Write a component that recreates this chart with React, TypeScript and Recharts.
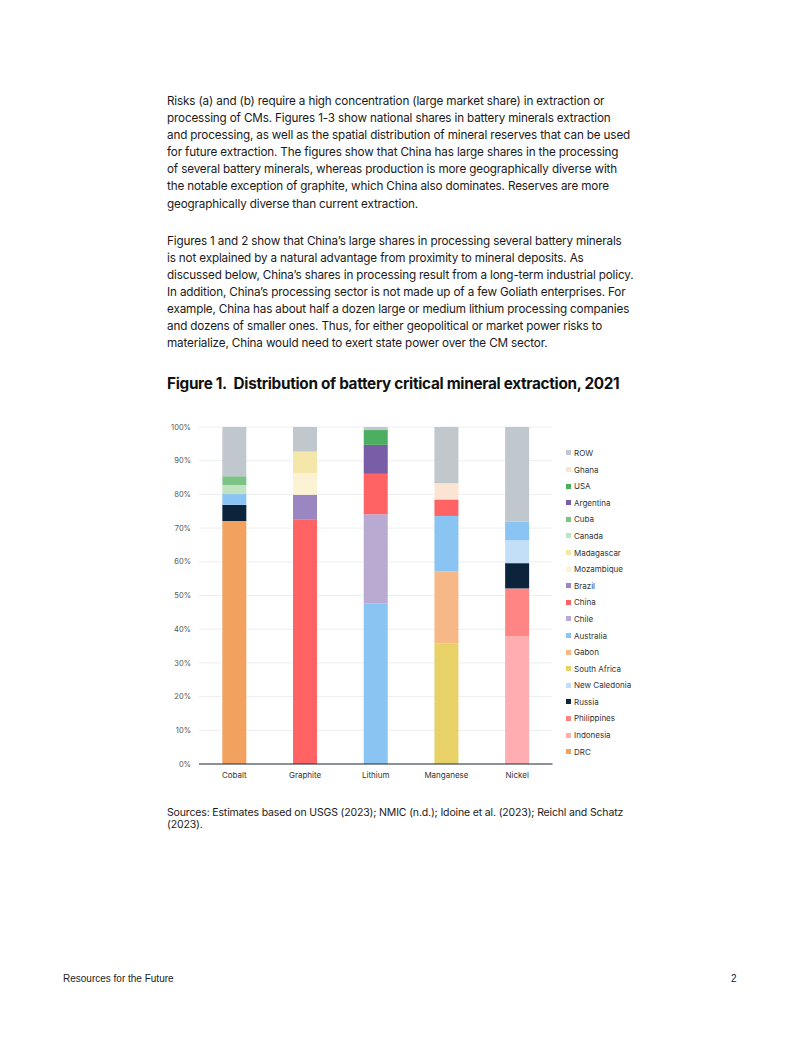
import type { ReactElement } from "react";
import { BarChart, Bar, XAxis, YAxis, CartesianGrid, Legend } from "recharts";

const minerals = ["Cobalt", "Graphite", "Lithium", "Manganese", "Nickel"];
const yTicks = [0, 10, 20, 30, 40, 50, 60, 70, 80, 90, 100];

// national share of extraction (%), one value per mineral in the order above
const drc = [72.1, 0, 0, 0, 0];
const indonesia = [0, 0, 0, 0, 37.8];
const philippines = [0, 0, 0, 0, 14.3];
const russia = [4.8, 0, 0, 0, 7.5];
const newCaledonia = [0, 0, 0, 0, 6.8];
const southAfrica = [0, 0, 0, 35.8, 0];
const gabon = [0, 0, 0, 21.3, 0];
const australia = [3.2, 0, 47.7, 16.5, 5.5];
const chile = [0, 0, 26.4, 0, 0];
const china = [0, 72.6, 12.0, 4.9, 0];
const brazil = [0, 7.3, 0, 0, 0];
const mozambique = [0, 6.4, 0, 0, 0];
const madagascar = [0, 6.4, 0, 0, 0];
const canada = [2.7, 0, 0, 0, 0];
const cuba = [2.6, 0, 0, 0, 0];
const argentina = [0, 0, 8.6, 0, 0];
const usa = [0, 0, 4.4, 0, 0];
const ghana = [0, 0, 0, 4.8, 0];
const row = [14.6, 7.3, 0.9, 16.7, 28.1];

const series = [
    { name: "DRC", values: drc, color: "#F2A15F" },
    { name: "Indonesia", values: indonesia, color: "#FFADB0" },
    { name: "Philippines", values: philippines, color: "#FF8585" },
    { name: "Russia", values: russia, color: "#0C243B" },
    { name: "New Caledonia", values: newCaledonia, color: "#C2DFF7" },
    { name: "South Africa", values: southAfrica, color: "#E8D166" },
    { name: "Gabon", values: gabon, color: "#F6B886" },
    { name: "Australia", values: australia, color: "#8AC4F3" },
    { name: "Chile", values: chile, color: "#B8AAD1" },
    { name: "China", values: china, color: "#FF6363" },
    { name: "Brazil", values: brazil, color: "#9A87C2" },
    { name: "Mozambique", values: mozambique, color: "#FBF3D3" },
    { name: "Madagascar", values: madagascar, color: "#F5E6A9" },
    { name: "Canada", values: canada, color: "#C0E3C4" },
    { name: "Cuba", values: cuba, color: "#7CC385" },
    { name: "Argentina", values: argentina, color: "#795DA6" },
    { name: "USA", values: usa, color: "#4CAE60" },
    { name: "Ghana", values: ghana, color: "#FCE4D5" },
    { name: "ROW", values: row, color: "#C0C7CD" },
];

const para1 = [
    "Risks (a) and (b) require a high concentration (large market share) in extraction or",
    "processing of CMs. Figures 1-3 show national shares in battery minerals extraction",
    "and processing, as well as the spatial distribution of mineral reserves that can be used",
    "for future extraction. The figures show that China has large shares in the processing",
    "of several battery minerals, whereas production is more geographically diverse with",
    "the notable exception of graphite, which China also dominates. Reserves are more",
    "geographically diverse than current extraction.",
];

const para2 = [
    "Figures 1 and 2 show that China\u2019s large shares in processing several battery minerals",
    "is not explained by a natural advantage from proximity to mineral deposits. As",
    "discussed below, China\u2019s shares in processing result from a long-term industrial policy.",
    "In addition, China\u2019s processing sector is not made up of a few Goliath enterprises. For",
    "example, China has about half a dozen large or medium lithium processing companies",
    "and dozens of smaller ones. Thus, for either geopolitical or market power risks to",
    "materialize, China would need to exert state power over the CM sector.",
];

const sources = [
    "Sources: Estimates based on USGS (2023); NMIC (n.d.); Idoine et al. (2023); Reichl and Schatz",
    "(2023).",
];

const FONT = "Inter, 'Noto Sans', sans-serif";

const data = minerals.map((m, i) => {
    const rowObj: Record<string, string | number> = { mineral: m };
    series.forEach((s) => {
        rowObj[s.name] = s.values[i];
    });
    return rowObj;
});

// legend lists the series top-down in reverse stacking order (ROW first)
function renderLegend(props: any): ReactElement {
    const payload: any[] = props.payload || [];
    const items = [...series]
        .reverse()
        .map((s) => payload.find((p) => p.value === s.name || p.dataKey === s.name))
        .filter(Boolean);
    return (
        <div style={{ fontFamily: FONT, fontSize: 8, color: "#333" }}>
            {items.map((it: any) => (
                <div key={it.value} style={{ display: "flex", alignItems: "center", height: 16.6 }}>
                    <span style={{ width: 5, height: 5, background: it.color, marginRight: 3, flexShrink: 0 }} />
                    <span>{it.value}</span>
                </div>
            ))}
        </div>
    );
}

function Paragraph({ lines, top }: { lines: string[]; top: number }): ReactElement {
    return (
        <div
            style={{
                position: "absolute",
                left: 167,
                top,
                fontFamily: FONT,
                fontSize: 11.7,
                lineHeight: "17.1px",
                color: "#1a1a1a",
                whiteSpace: "nowrap",
                letterSpacing: -0.15,
            }}
        >
            {lines.map((l) => (
                <div key={l}>{l}</div>
            ))}
        </div>
    );
}

export default function App(): ReactElement {
    return (
        <div style={{ position: "absolute", left: 0, top: 0, width: 802, height: 1037, background: "#fff" }}>
            <Paragraph lines={para1} top={93} />
            <Paragraph lines={para2} top={232.5} />

            <div
                style={{
                    position: "absolute",
                    left: 167,
                    top: 374,
                    fontFamily: FONT,
                    fontSize: 15.3,
                    fontWeight: 700,
                    lineHeight: "20px",
                    color: "#111",
                    whiteSpace: "nowrap",
                    letterSpacing: -0.3,
                }}
            >
                Figure 1.&nbsp; Distribution of battery critical mineral extraction, 2021
            </div>

            <div style={{ position: "absolute", left: 150, top: 415 }}>
                <BarChart
                    width={480}
                    height={379}
                    data={data}
                    margin={{ top: 12, right: 77.5, left: 0, bottom: 0 }}
                    barCategoryGap="33%"
                >
                    <CartesianGrid vertical={false} stroke="#eceef0" />
                    <XAxis
                        dataKey="mineral"
                        height={30}
                        tickLine={false}
                        axisLine={{ stroke: "#1e2b38", strokeWidth: 1 }}
                        tick={{ fontSize: 8, fill: "#333", fontFamily: FONT }}
                    />
                    <YAxis
                        width={49}
                        domain={[0, 100]}
                        ticks={yTicks}
                        tickFormatter={(v) => `${v}%`}
                        tickLine={false}
                        axisLine={false}
                        tick={{ fontSize: 7.5, fill: "#555", fontFamily: FONT }}
                    />
                    <Legend
                        layout="horizontal"
                        align="center"
                        verticalAlign="middle"
                        content={renderLegend}
                        wrapperStyle={{ left: 416, top: 29.7, width: 80, right: "auto", bottom: "auto" }}
                    />
                    {series.map((s) => (
                        <Bar key={s.name} dataKey={s.name} stackId="a" fill={s.color} isAnimationActive={false} />
                    ))}
                </BarChart>
            </div>

            <div
                style={{
                    position: "absolute",
                    left: 167,
                    top: 806.5,
                    fontFamily: FONT,
                    fontSize: 10.5,
                    lineHeight: "12.5px",
                    color: "#1a1a1a",
                    whiteSpace: "nowrap",
                    letterSpacing: -0.15,
                }}
            >
                {sources.map((l) => (
                    <div key={l}>{l}</div>
                ))}
            </div>

            <div
                style={{
                    position: "absolute",
                    left: 63,
                    top: 973,
                    fontFamily: "'Liberation Sans', Arial, sans-serif",
                    fontSize: 10,
                    lineHeight: "12px",
                    color: "#222",
                }}
            >
                Resources for the Future
            </div>
            <div
                style={{
                    position: "absolute",
                    left: 731,
                    top: 973,
                    fontFamily: "'Liberation Sans', Arial, sans-serif",
                    fontSize: 10,
                    lineHeight: "12px",
                    color: "#222",
                }}
            >
                2
            </div>
        </div>
    );
}
